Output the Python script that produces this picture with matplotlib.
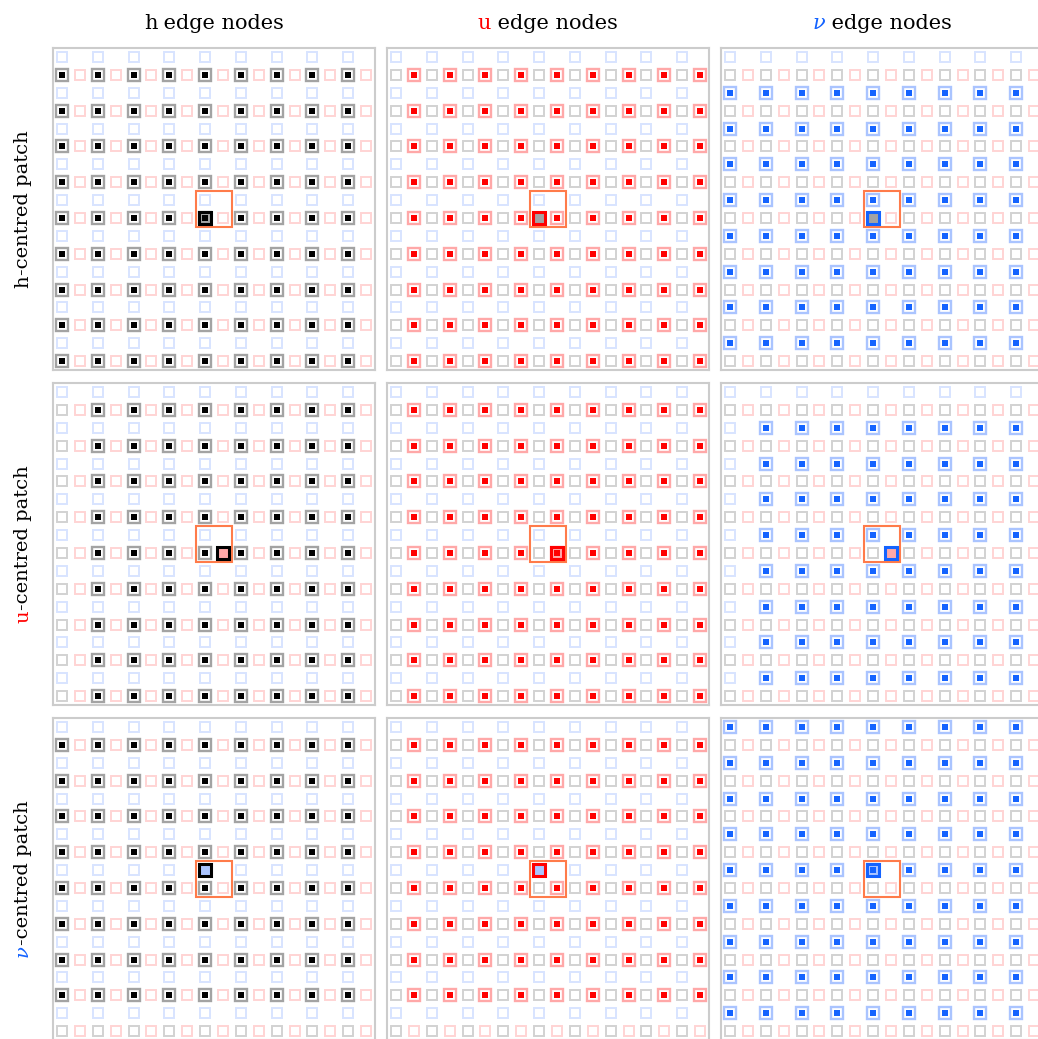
import numpy as np
import matplotlib.pyplot as plt
from matplotlib.patches import Rectangle

# node kinds on the staggered grid, order of rows (patch centre) and columns (edge kind)
kinds = ["h", "u", "v"]
letters = {"h": "h", "u": "u", "v": "ν"}
n_cols, n_rows = 18, 18
col_start = {"h": 0, "u": 1, "v": 0}
row_start = {"h": 1, "u": 1, "v": 0}

# centre node of the patch cell for each patch type (column, row)
centre = {"h": (8, 9), "u": (9, 9), "v": (8, 8)}
cell_cols = [8, 9]
cell_rows = [8, 9]

# grid lines (columns / rows) where a kind is NOT an edge node, per (patch, edge kind)
skip_cols = {("u", "h"): [0], ("u", "v"): [0]}
skip_rows = {("h", "v"): [0], ("u", "v"): [0], ("v", "h"): [17], ("v", "u"): [17]}

dark = {"h": "#000000", "u": "#ff0000", "v": "#1463ff"}
mid = {"h": "#a3a3a3", "u": "#ffa8a8", "v": "#aac4ff"}
faint = {"h": "#d2d2d2", "u": "#ffd4d4", "v": "#d8e4ff"}

W, H = 1038, 1039
fig = plt.figure(figsize=(W / 100, H / 100), dpi=100)
lefts = [53, 387, 721]
tops = [48, 383, 718]
side = 322


def nodes(kind):
    cc, rr = np.meshgrid(np.arange(col_start[kind], n_cols, 2),
                         np.arange(row_start[kind], n_rows, 2))
    return cc.ravel(), rr.ravel()


for i, pk in enumerate(kinds):
    for j, ek in enumerate(kinds):
        ax = fig.add_axes([lefts[j] / W, 1 - (tops[i] + side) / H, side / W, side / H])
        ax.set_xlim(-0.5, n_cols - 0.5)
        ax.set_ylim(n_rows - 0.5, -0.5)
        ax.set_xticks([])
        ax.set_yticks([])
        for s in ax.spines.values():
            s.set_color("#cccccc")
            s.set_linewidth(1.5)

        for k in kinds:
            c, r = nodes(k)
            if k == ek:
                on = (~np.isin(c, skip_cols.get((pk, ek), []))
                      & ~np.isin(r, skip_rows.get((pk, ek), [])))
            else:
                on = np.zeros(len(c), bool)
            ax.plot(c[~on], r[~on], "s", ms=6.6, mfc="none", mec=faint[k], mew=1.4, ls="none")
            ax.plot(c[on], r[on], "s", ms=9, mfc="none", mec=mid[k], mew=1.7, ls="none")
            ax.plot(c[on], r[on], "s", ms=4, mfc=dark[k], mec=dark[k], mew=0, ls="none")

        ax.add_patch(Rectangle((min(cell_cols) - 0.5, min(cell_rows) - 0.5),
                               len(cell_cols), len(cell_rows),
                               fill=False, ec="#ff7b4a", lw=1.5, zorder=3))

        cx, cy = centre[pk]
        ax.plot(cx, cy, "s", ms=8.1, mfc=mid[pk], mec=dark[ek], mew=2.2, zorder=4)
        if pk == ek:
            ax.plot(cx, cy, "s", ms=4, mfc=dark[ek], mec=dark[ek], mew=0, zorder=5)

# two-colour labels: coloured letter + black rest, joined on the baseline
font = dict(family="DejaVu Serif", rotation_mode="anchor", va="baseline")
labels = []
for j, k in enumerate(kinds):
    t1 = fig.text(0, 0, letters[k], ha="right", color=dark[k], fontsize=15,
                  style="italic" if k == "v" else "normal", **font)
    t2 = fig.text(0, 0, " edge nodes", ha="left", color="black", fontsize=15, **font)
    labels.append((t1, t2, 0, lefts[j] + side / 2, H - 29))
for i, k in enumerate(kinds):
    t1 = fig.text(0, 0, letters[k], ha="right", color=dark[k], rotation=90, fontsize=14,
                  style="italic" if k == "v" else "normal", **font)
    t2 = fig.text(0, 0, "-centred patch", ha="left", color="black", rotation=90,
                  fontsize=14, **font)
    labels.append((t1, t2, 90, 28, H - (tops[i] + side / 2)))

fig.canvas.draw()
rend = fig.canvas.get_renderer()
for t1, t2, rot, x, y in labels:
    b1, b2 = t1.get_window_extent(rend), t2.get_window_extent(rend)
    if rot == 0:
        w1, w2 = b1.width, b2.width
        pos = (x - (w1 + w2) / 2 + w1, y)
    else:
        w1, w2 = b1.height, b2.height
        pos = (x, y - (w1 + w2) / 2 + w1)
    for t in (t1, t2):
        t.set_position((pos[0] / W, pos[1] / H))

fig.savefig("out.png", dpi=100)
